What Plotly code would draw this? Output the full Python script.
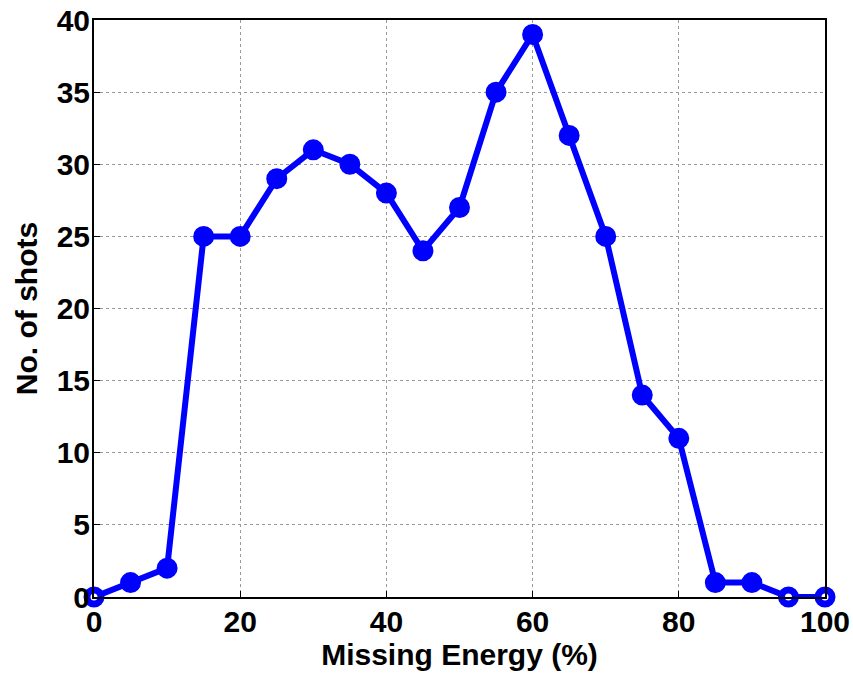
import plotly.graph_objects as go

missing_energy = [0, 5, 10, 15, 20, 25, 30, 35, 40, 45, 50, 55, 60, 65, 70, 75, 80, 85, 90, 95, 100]
shots = [0, 1, 2, 25, 25, 29, 31, 30, 28, 24, 27, 35, 39, 32, 25, 14, 11, 1, 1, 0, 0]
x_ticks = [0, 20, 40, 60, 80, 100]
y_ticks = [0, 5, 10, 15, 20, 25, 30, 35, 40]

blue = "#0000FF"
fill = ["white" if v == 0 else blue for v in shots]

fig = go.Figure()
fig.add_trace(go.Scatter(
    x=missing_energy, y=shots, mode="lines+markers",
    line=dict(color=blue, width=6),
    marker=dict(size=14, color=fill, line=dict(color=blue, width=7)),
    cliponaxis=False, showlegend=False,
))

title_font = dict(family="Liberation Sans, Arial", size=30, color="black")
axis_common = dict(
    showgrid=True, gridcolor="#9a9a9a", griddash="dot", gridwidth=1,
    showline=True, linecolor="black", linewidth=2, mirror=True,
    ticks="inside", ticklen=6, tickcolor="black", automargin=False,
    ticklabeloverflow="allow",
    zeroline=False, tickfont=dict(family="Liberation Sans, Arial", size=30, color="black"),
)
fig.update_xaxes(range=[0, 100], tickvals=x_ticks, ticktext=[f"<b>{v}</b>" for v in x_ticks],
                 ticklabelstandoff=-3,
                 title=dict(text="<b>Missing Energy (%)</b>", font=title_font, standoff=4), **axis_common)
fig.update_yaxes(range=[0, 40], tickvals=y_ticks, ticktext=[f"<b>{v}</b>" for v in y_ticks],
                 ticklabelstandoff=-4,
                 title=dict(text="<b>No. of shots</b>", font=title_font, standoff=10), **axis_common)
fig.update_layout(
    width=853, height=676,
    margin=dict(l=94, r=28, t=20, b=79),
    plot_bgcolor="white", paper_bgcolor="white",
)
fig.write_html(
    "out.html",
    config={"displayModeBar": False},
    post_script="document.body.style.margin='0';document.body.style.overflow='hidden';",
)
